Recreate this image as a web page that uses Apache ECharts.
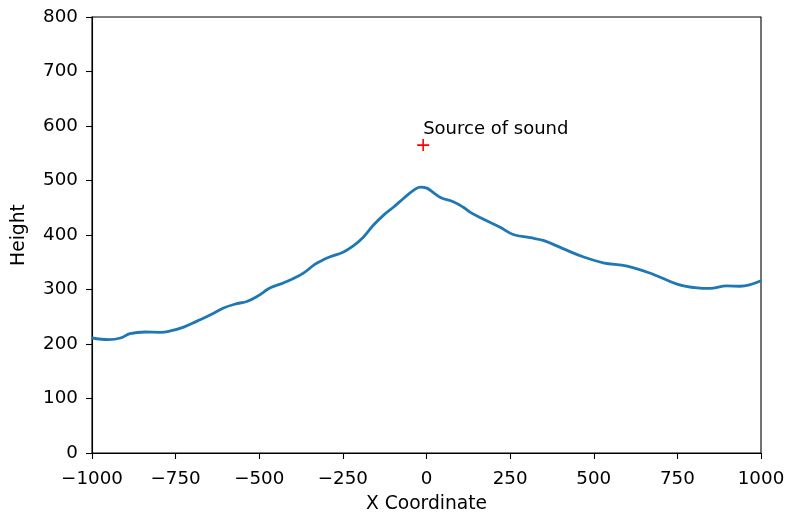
<!DOCTYPE html>
<html>
<head>
<meta charset="utf-8">
<script src="https://cdn.jsdelivr.net/npm/echarts@6/dist/echarts.min.js"></script>
<style>
  html, body { margin: 0; padding: 0; background: #fff; }
  #chart { width: 787px; height: 513px; }
</style>
</head>
<body>
<div id="chart"></div>
<script>
// Terrain profile along the x axis
const xCoord = [-1000, -950, -915, -886, -841, -796, -766, -726, -686, -647, -607, -567, -537, -507,
  -467, -428, -398, -368, -334, -310, -288, -248, -219, -189, -159, -129, -99, -69, -39, -19,
  1, 20, 45, 80, 110, 130, 160, 220, 259, 310, 349, 408, 468, 528, 600, 677, 749, 809, 847,
  898, 937, 1000];
const height = [211, 208, 211, 219, 222, 221.5, 224, 231, 242, 253, 266, 274, 278, 287,
  303, 312, 320, 330, 346, 354, 360, 369, 380, 396, 418, 436, 451, 467, 482, 488,
  486, 478, 468, 461, 451, 442, 432, 414, 401, 395, 390, 375, 360, 349, 343, 328, 310, 303, 302,
  306.5, 306, 316];

// Sound source position
const sourceX = [-10];
const sourceY = [565];
const sourceLabel = 'Source of sound';

const xTicks = [-1000, -750, -500, -250, 0, 250, 500, 750, 1000];
const yTicks = [0, 100, 200, 300, 400, 500, 600, 700, 800];

const FONT = 'DejaVu Sans';
const fmtNum = v => String(v).replace('-', '\u2212');

const chart = echarts.init(document.getElementById('chart'), null, { renderer: 'canvas' });
chart.setOption({
  animation: false,
  backgroundColor: '#fff',
  grid: {
    left: 92, right: 26, top: 17, bottom: 60,
    outerBoundsMode: 'none',
    show: true, borderColor: '#000', borderWidth: 1.1, backgroundColor: 'transparent'
  },
  xAxis: {
    type: 'value',
    min: xTicks[0], max: xTicks[xTicks.length - 1], interval: 250,
    name: 'X Coordinate', nameLocation: 'middle', nameGap: 42,
    nameTextStyle: { fontFamily: FONT, fontSize: 18.7, color: '#000' },
    axisLine: { show: true, onZero: false, lineStyle: { color: '#000', width: 1.1 } },
    axisTick: { show: true, inside: false, length: 6, lineStyle: { color: '#000', width: 1.1 } },
    axisLabel: { fontFamily: FONT, fontSize: 18.3, color: '#000', margin: 17,
      showMinLabel: true, showMaxLabel: true, formatter: fmtNum },
    splitLine: { show: false }
  },
  yAxis: {
    type: 'value',
    min: yTicks[0], max: yTicks[yTicks.length - 1], interval: 100,
    name: 'Height', nameLocation: 'middle', nameGap: 63,
    nameTextStyle: { fontFamily: FONT, fontSize: 18.7, color: '#000' },
    axisLine: { show: true, onZero: false, lineStyle: { color: '#000', width: 1.1 } },
    axisTick: { show: true, inside: false, length: 6, lineStyle: { color: '#000', width: 1.1 } },
    axisLabel: { fontFamily: FONT, fontSize: 18.3, color: '#000', margin: 14,
      showMinLabel: true, showMaxLabel: true, formatter: fmtNum },
    splitLine: { show: false }
  },
  series: [
    {
      type: 'line',
      data: xCoord.map((x, i) => [x, height[i]]),
      smooth: 0.4,
      showSymbol: false,
      lineStyle: { color: '#1f77b4', width: 2.8 },
      z: 2
    },
    {
      type: 'scatter',
      data: sourceX.map((x, i) => [x, sourceY[i]]),
      symbol: 'path://M0,5.2h12v1.6h-12z M5.2,0h1.6v12h-1.6z',
      symbolSize: 12,
      itemStyle: { color: '#ff0000', opacity: 1 },
      label: {
        show: true, formatter: sourceLabel, position: 'inside',
        align: 'left', verticalAlign: 'middle', offset: [0, -16],
        fontFamily: FONT, fontSize: 18, color: '#000'
      },
      z: 3
    }
  ]
});
</script>
</body>
</html>
